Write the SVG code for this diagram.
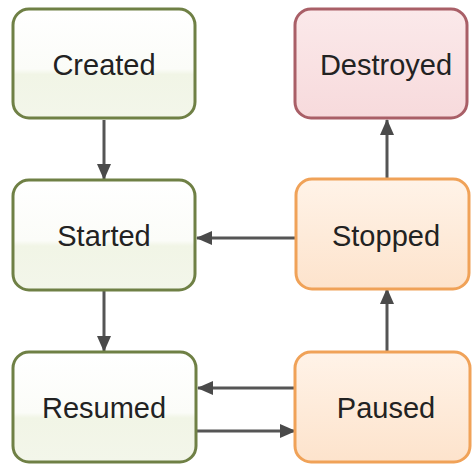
<svg xmlns="http://www.w3.org/2000/svg" width="472" height="464" viewBox="0 0 472 464">
<defs>
<linearGradient id="gG" x1="0" y1="0" x2="0" y2="1"><stop offset="0" stop-color="#ffffff"/><stop offset="0.55" stop-color="#fbfcf8"/><stop offset="0.6" stop-color="#f1f5e6"/><stop offset="1" stop-color="#f3f6ea"/></linearGradient>
<linearGradient id="gR" x1="0" y1="0" x2="0" y2="1"><stop offset="0" stop-color="#fbe9ea"/><stop offset="1" stop-color="#f7dadc"/></linearGradient>
<linearGradient id="gO" x1="0" y1="0" x2="0" y2="1"><stop offset="0" stop-color="#fff3e8"/><stop offset="1" stop-color="#fde3cc"/></linearGradient>
<marker id="ah" markerWidth="16" markerHeight="14" refX="15" refY="7" orient="auto" markerUnits="userSpaceOnUse"><path d="M0,0 L16,7 L0,14 Z" fill="#4a4a4a"/></marker>
<style>
.g{fill:url(#gG);stroke:#6f8045;stroke-width:3}
.r{fill:url(#gR);stroke:#a95f67;stroke-width:3}
.o{fill:url(#gO);stroke:#f0a258;stroke-width:3}
text{font-family:"Liberation Sans",Arial,sans-serif;font-size:29px;fill:#222;text-anchor:middle}
.c{stroke:#555;stroke-width:3;fill:none;marker-end:url(#ah)}
</style>
</defs>
<g id="connectors">
<line class="c" x1="104" y1="120" x2="104" y2="179"/>
<line class="c" x1="104" y1="291" x2="104" y2="351"/>
<line class="c" x1="296" y1="238" x2="197" y2="238"/>
<line class="c" x1="387" y1="352" x2="387" y2="289"/>
<line class="c" x1="387" y1="179" x2="387" y2="120"/>
<line class="c" x1="295" y1="388" x2="198" y2="388"/>
<line class="c" x1="197" y1="431" x2="295" y2="431"/>
</g>
<g id="created"><rect class="g" x="13" y="9" width="182" height="109" rx="16"/><text x="104" y="75">Created</text></g>
<g id="started"><rect class="g" x="13" y="180" width="182" height="110" rx="16"/><text x="104" y="246">Started</text></g>
<g id="resumed"><rect class="g" x="13" y="352" width="183" height="110" rx="16"/><text x="104" y="418">Resumed</text></g>
<g id="destroyed"><rect class="r" x="295" y="9" width="172" height="109" rx="16"/><text x="386" y="75">Destroyed</text></g>
<g id="stopped"><rect class="o" x="296" y="179" width="173" height="110" rx="16"/><text x="386" y="246">Stopped</text></g>
<g id="paused"><rect class="o" x="295" y="352" width="175" height="110" rx="16"/><text x="386" y="418">Paused</text></g>
</svg>
